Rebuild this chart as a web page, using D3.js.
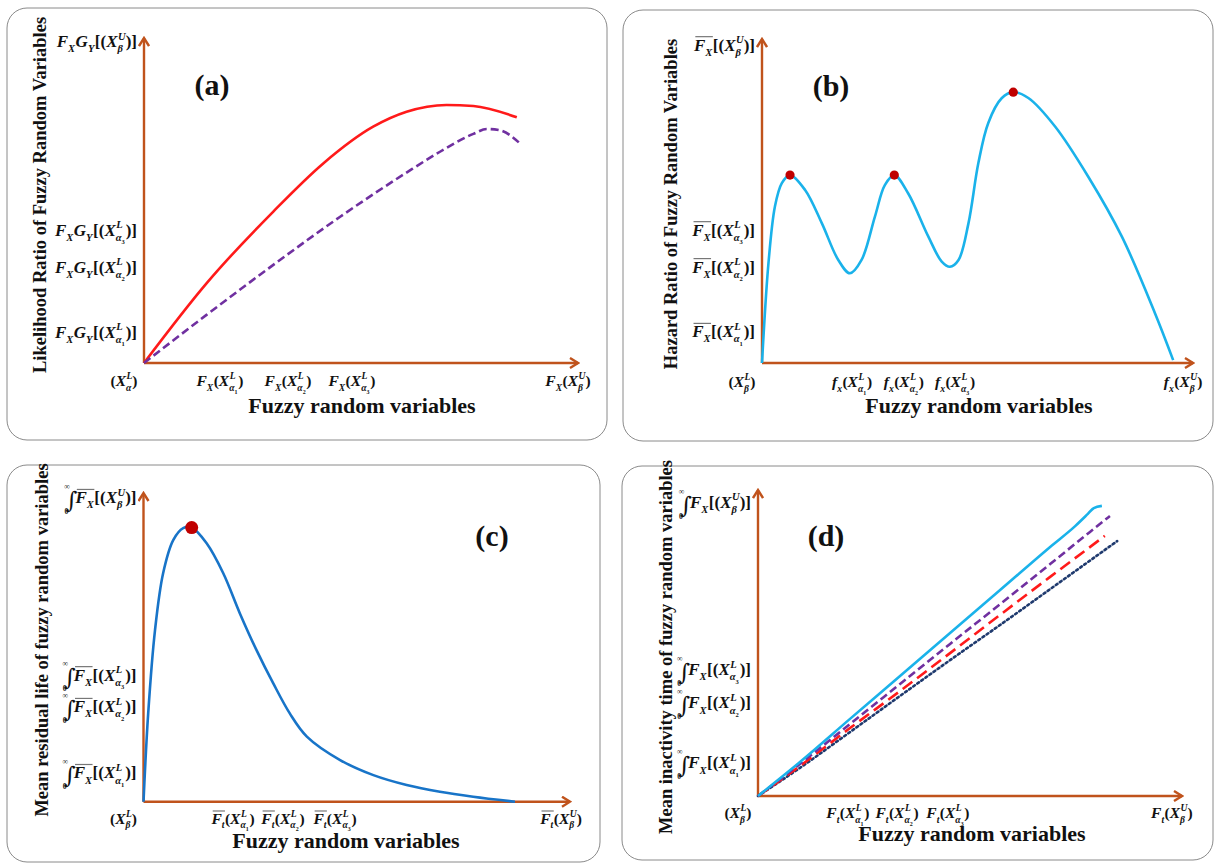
<!DOCTYPE html>
<html><head><meta charset="utf-8">
<script src="https://cdn.jsdelivr.net/npm/d3@7"></script>
<style>
html,body{margin:0;padding:0;background:#fff;}
svg{display:block;}
text{font-family:"Liberation Serif","Times New Roman",serif;fill:#111;}
</style></head><body>
<svg id="chart" width="1215" height="867"></svg>
<script>
// ---------------- DATA (axis units 0..100) ----------------
// Panel (a)
const aRed    = [[0,0],[14.4,24.5],[29.8,46.6],[41.3,61.4],[52.8,72.7],[60.5,77.3],[69.7,79.4],[75.9,79.1],[85.9,75.6]];
const aPurple = [[0,0],[14.4,14.8],[29.8,30.2],[45.2,45.0],[60.5,58.6],[68.2,65.0],[75.9,70.5],[79.0,72.0],[82.0,71.6],[87.0,67.1]];
const aXTickVals = [17.5, 33.2, 47.9, 97.7];
const aXTickLabels = ["F_X(X^L_{α_1})","F_X(X^L_{α_2})","F_X(X^L_{α_3})","F_X(X^U_β)"];
const aYTickVals = [9.5, 29.5, 40.9, 98.8];
const aYTickLabels = ["F_XG_Y[(X^L_{α_1})]","F_XG_Y[(X^L_{α_2})]","F_XG_Y[(X^L_{α_3})]","F_XG_Y[(X^U_β)]"];
const aOrigin = "(X^L_α)";

// Panel (b)
const bCyan = [[0,0],[1.5,30.8],[3.0,48.3],[4.6,55.5],[6.5,58.0],[10.0,53.4],[13.9,43.1],[17.7,31.8],[20.4,27.7],[23.1,31.8],[26.2,45.2],[28.5,54.9],[30.7,58.0],[33.9,52.4],[38.6,39.0],[41.7,31.3],[43.6,29.7],[45.6,31.8],[47.9,43.1],[50.2,61.7],[52.5,74.1],[55.6,81.7],[58.3,83.6],[61.8,81.8],[68.0,73.0],[75.7,57.5],[83.5,39.0],[91.2,15.3],[95.4,0.9]];
const bPeaks = [[6.5,58.0],[30.7,58.0],[58.3,83.6]];
const bXTickVals = [20.9, 32.9, 44.8, 97.7];
const bXTickLabels = ["f_x(X^L_{α_1})","f_x(X^L_{α_2})","f_x(X^L_{α_3})","f_x(X^U_β)"];
const bYTickVals = [9.6, 29.6, 41.0, 98.1];
const bYTickLabels = ["\\bar{F_X}[(X^L_{α_1})]","\\bar{F_X}[(X^L_{α_2})]","\\bar{F_X}[(X^L_{α_3})]","\\bar{F_X}[(X^U_β)]"];
const bOrigin = "(X^L_β)";

// Panel (c)
const cBlue = [[0,0],[1.1,28.6],[2.7,55.6],[4.6,74.0],[7.0,84.8],[9.3,88.6],[11.3,88.8],[14.8,83.7],[18.7,74.0],[22.6,61.0],[26.5,49.1],[30.4,38.4],[34.3,28.6],[38.3,21.1],[46.1,13.5],[53.9,8.6],[61.7,5.4],[69.5,3.2],[77.3,1.6],[87.1,0]];
const cPeak = [[11.3,88.8]];
const cXTickVals = [21.0, 32.7, 44.9, 97.9];
const cXTickLabels = ["\\bar{F_t}(X^L_{α_1})","\\bar{F_t}(X^L_{α_2})","\\bar{F_t}(X^L_{α_3})","\\bar{F_t}(X^U_β)"];
const cYTickVals = [9.3, 30.7, 41.0, 98.4];
const cYTickLabels = ["\\int\\bar{F_X}[(X^L_{α_1})]","\\int\\bar{F_X}[(X^L_{α_2})]","\\int\\bar{F_X}[(X^L_{α_3})]","\\int\\bar{F_X}[(X^U_β)]"];
const cOrigin = "(X^L_β)";

// Panel (d)
const dCyan   = [[0,0],[9.9,11.1],[21.7,25.2],[33.5,39.2],[45.3,53.3],[57.1,67.3],[68.9,81.4],[74.8,88.2],[77.8,92.2],[79.2,94.1],[81.1,94.8]];
const dPurple = [[0,0],[9.9,10.5],[21.7,23.5],[33.5,36.6],[45.3,49.7],[57.1,62.7],[68.9,75.8],[78.3,86.3],[83.0,91.5]];
const dRed    = [[0,0],[9.9,9.8],[21.7,22.2],[33.5,34.3],[45.3,46.7],[57.1,59.2],[68.9,71.6],[81.8,85.0]];
const dNavy   = [[0,0],[9.9,9.2],[21.7,20.9],[33.5,32.7],[45.3,44.4],[57.1,55.9],[68.9,67.6],[84.7,83.3]];
const dXTickVals = [21.2, 32.8, 44.8, 97.6];
const dXTickLabels = ["F_t(X^L_{α_1})","F_t(X^L_{α_2})","F_t(X^L_{α_3})","F_t(X^U_β)"];
const dYTickVals = [10.8, 30.4, 41.2, 95.8];
const dYTickLabels = ["\\int F_X[(X^L_{α_1})]","\\int F_X[(X^L_{α_2})]","\\int F_X[(X^L_{α_3})]","\\int F_X[(X^U_β)]"];
const dOrigin = "(X^L_β)";

const xTitle = "Fuzzy random variables";
const yTitles = ["Likelihood Ratio of Fuzzy Random Variables","Hazard Ratio of Fuzzy Random  Variables","Mean residual life of fuzzy random variables","Mean inactivity time of fuzzy random variables"];
const panelTags = ["(a)","(b)","(c)","(d)"];

// ---------------- MATH LABEL RENDERER ----------------
function parseMath(s){
  s = s.replace(/ /g,'');
  let i = 0;
  function atom(){
    const c = s[i];
    if (c === '{'){ i++; const g = seq('}'); i++; return {group:g}; }
    if (c === '\\'){
      const m = /^\\([a-z]+)/.exec(s.slice(i)); i += m[0].length;
      if (m[1] === 'bar') return {bar: atom()};
      if (m[1] === 'int') return {int: true};
    }
    i++; return {ch:c};
  }
  function seq(end){
    const out = [];
    while (i < s.length && s[i] !== end){
      const node = {base: atom()};
      while (s[i] === '_' || s[i] === '^'){
        const k = s[i]; i++;
        const a = atom();
        if (k === '_') node.sub = a; else node.sup = a;
      }
      out.push(node);
    }
    return out;
  }
  return seq(undefined);
}
function renderSeq(g, nodes, x, y, fs){
  let cx = x;
  nodes.forEach(n => { cx += renderNode(g, n, cx, y, fs); });
  return cx - x;
}
function renderNode(g, n, x, y, fs){
  const w = renderAtom(g, n.base, x, y, fs);
  const sfs = fs * 0.62;
  let ws = 0, wp = 0;
  if (n.sub) ws = renderAtom(g, n.sub, x + w, y + fs * 0.3, sfs);
  if (n.sup) wp = renderAtom(g, n.sup, x + w + fs*0.03, y - fs * 0.46, sfs);
  return w + Math.max(ws, wp) + ((n.sub||n.sup) ? fs*0.03 : 0);
}
function renderAtom(g, a, x, y, fs){
  if (a.ch !== undefined){
    const it = /[A-Za-zα-ωΑ-Ω]/.test(a.ch);
    const t = g.append('text').attr('x', x).attr('y', y).attr('font-size', fs)
      .style('font-weight','bold').style('font-style', it ? 'italic' : 'normal').text(a.ch);
    return t.node().getComputedTextLength();
  }
  if (a.group) return renderSeq(g, a.group, x, y, fs);
  if (a.bar){
    const w = renderAtom(g, a.bar, x, y, fs);
    g.append('line').attr('x1', x + fs*0.08).attr('x2', x + w).attr('y1', y - fs*0.82).attr('y2', y - fs*0.82)
      .attr('stroke', '#777').attr('stroke-width', 1.2);
    return w;
  }
  if (a.int){
    g.append('text').attr('x', x + fs*0.08).attr('y', y + fs*0.25).attr('font-size', fs*1.35)
      .style('font-family','"DejaVu Serif",serif').style('font-weight','normal').text('∫');
    g.append('text').attr('x', x).attr('y', y - fs*0.85).attr('font-size', fs*0.45).style('font-weight','bold').text('∞');
    g.append('text').attr('x', x + fs*0.02).attr('y', y + fs*0.62).attr('font-size', fs*0.45).style('font-weight','bold').text('0');
    return fs * 0.66;
  }
  return 0;
}
function mathLabel(parent, str, fs){
  const g = parent.append('g');
  const w = renderSeq(g, parseMath(str), 0, 0, fs);
  return {g, w};
}

// ---------------- LAYOUT ----------------
const svg = d3.select('#chart');
const AX = '#c0531c';
svg.append('defs').append('marker').attr('id','arr').attr('viewBox','-10 -6 12 12')
  .attr('refX',0).attr('refY',0).attr('markerWidth',12).attr('markerHeight',12)
  .attr('markerUnits','userSpaceOnUse').attr('orient','auto')
  .append('path').attr('d','M-8,-5 L0,0 L-8,5').attr('fill','none').attr('stroke',AX).attr('stroke-width',2.4);

const panels = [
  {box:[7,8,600,432], ox:144, oy:363, xt:578, yt:38, xs:aXTickVals, xl:aXTickLabels, ys:aYTickVals, yl:aYTickLabels, org:aOrigin,
   tag:[212,95], xtitle:[362,413], ytitle:[46,195], xlb:23},
  {box:[623,10,590,431], ox:762, oy:363, xt:1193, yt:39, xs:bXTickVals, xl:bXTickLabels, ys:bYTickVals, yl:bYTickLabels, org:bOrigin,
   tag:[831,96], xtitle:[979,413], ytitle:[677,204], xlb:24},
  {box:[7,465,593,397], ox:143.5, oy:801.7, xt:570, yt:493, xs:cXTickVals, xl:cXTickLabels, ys:cYTickVals, yl:cYTickLabels, org:cOrigin,
   tag:[492,546], xtitle:[346,848], ytitle:[48,640], xlb:22},
  {box:[622,466,591,394], ox:758, oy:796, xt:1182, yt:490, xs:dXTickVals, xl:dXTickLabels, ys:dYTickVals, yl:dYTickLabels, org:dOrigin,
   tag:[826,546], xtitle:[972,841], ytitle:[672,647], xlb:22}
];

const FSY = 17, FSX = 15.5;
panels.forEach((p, k) => {
  const g = svg.append('g');
  g.append('rect').attr('x',p.box[0]).attr('y',p.box[1]).attr('width',p.box[2]).attr('height',p.box[3])
    .attr('rx',20).attr('ry',20).attr('fill','none').attr('stroke','#8a8a8a').attr('stroke-width',1);
  p.x = d3.scaleLinear().domain([0,100]).range([p.ox, p.xt]);
  p.y = d3.scaleLinear().domain([0,100]).range([p.oy, p.yt]);
  // axes
  g.append('line').attr('x1',p.x(0)).attr('y1',p.y(0)).attr('x2',p.x(100)).attr('y2',p.y(0))
    .attr('stroke',AX).attr('stroke-width',2.4).attr('marker-end','url(#arr)');
  g.append('line').attr('x1',p.x(0)).attr('y1',p.y(0)).attr('x2',p.x(0)).attr('y2',p.y(100))
    .attr('stroke',AX).attr('stroke-width',2.4).attr('marker-end','url(#arr)');
  // x tick labels
  p.xs.forEach((v,i) => {
    const m = mathLabel(g, p.xl[i], FSX);
    m.g.attr('transform',`translate(${p.x(v) - m.w/2},${p.oy + p.xlb})`);
  });
  const o = mathLabel(g, p.org, FSX);
  o.g.attr('transform',`translate(${p.ox - 20 - o.w/2},${p.oy + p.xlb})`);
  // y tick labels
  p.ys.forEach((v,i) => {
    const m = mathLabel(g, p.yl[i], FSY);
    m.g.attr('transform',`translate(${p.ox - 7 - m.w},${p.y(v) + FSY*0.32})`);
  });
  // titles
  g.append('text').attr('x',p.xtitle[0]).attr('y',p.xtitle[1]).attr('text-anchor','middle')
    .attr('font-size',22).style('font-weight','bold').text(xTitle);
  g.append('text').attr('transform',`translate(${p.ytitle[0]},${p.ytitle[1]}) rotate(-90)`)
    .attr('text-anchor','middle').attr('font-size',18.5).style('font-weight','bold').text(yTitles[k]);
  g.append('text').attr('x',p.tag[0]).attr('y',p.tag[1]).attr('text-anchor','middle')
    .attr('font-size',30).style('font-weight','bold').text(panelTags[k]);
});

function drawLine(p, data, color, width, dash, curve){
  const line = d3.line().x(d => p.x(d[0])).y(d => p.y(d[1])).curve(curve || d3.curveCatmullRom.alpha(0.5));
  svg.append('path').datum(data).attr('d', line).attr('fill','none').attr('stroke',color)
    .attr('stroke-width',width).attr('stroke-dasharray', dash || null).attr('stroke-linecap', dash==='2,3' ? 'round' : 'butt');
}
const [pa, pb, pc, pd] = panels;
drawLine(pa, aRed, '#ff1a1a', 2.6, null, d3.curveMonotoneX);
drawLine(pa, aPurple, '#7030a0', 2.6, '8,4', d3.curveMonotoneX);
drawLine(pb, bCyan, '#1ab2ea', 2.6);
svg.append('g').selectAll('circle').data(bPeaks).join('circle')
  .attr('cx', d => pb.x(d[0])).attr('cy', d => pb.y(d[1])).attr('r',4.6).attr('fill','#c00000');
drawLine(pc, cBlue, '#1874c8', 2.6);
svg.append('g').selectAll('circle').data(cPeak).join('circle')
  .attr('cx', d => pc.x(d[0])).attr('cy', d => pc.y(d[1])).attr('r',6.5).attr('fill','#c00000');
drawLine(pd, dNavy, '#1f3a6e', 2.6, '2,3', d3.curveMonotoneX);
drawLine(pd, dRed, '#ff1a1a', 2.6, '12,6', d3.curveMonotoneX);
drawLine(pd, dPurple, '#7030a0', 2.6, '8,4', d3.curveMonotoneX);
drawLine(pd, dCyan, '#1ab2ea', 2.6, null, d3.curveMonotoneX);
</script>
</body></html>
